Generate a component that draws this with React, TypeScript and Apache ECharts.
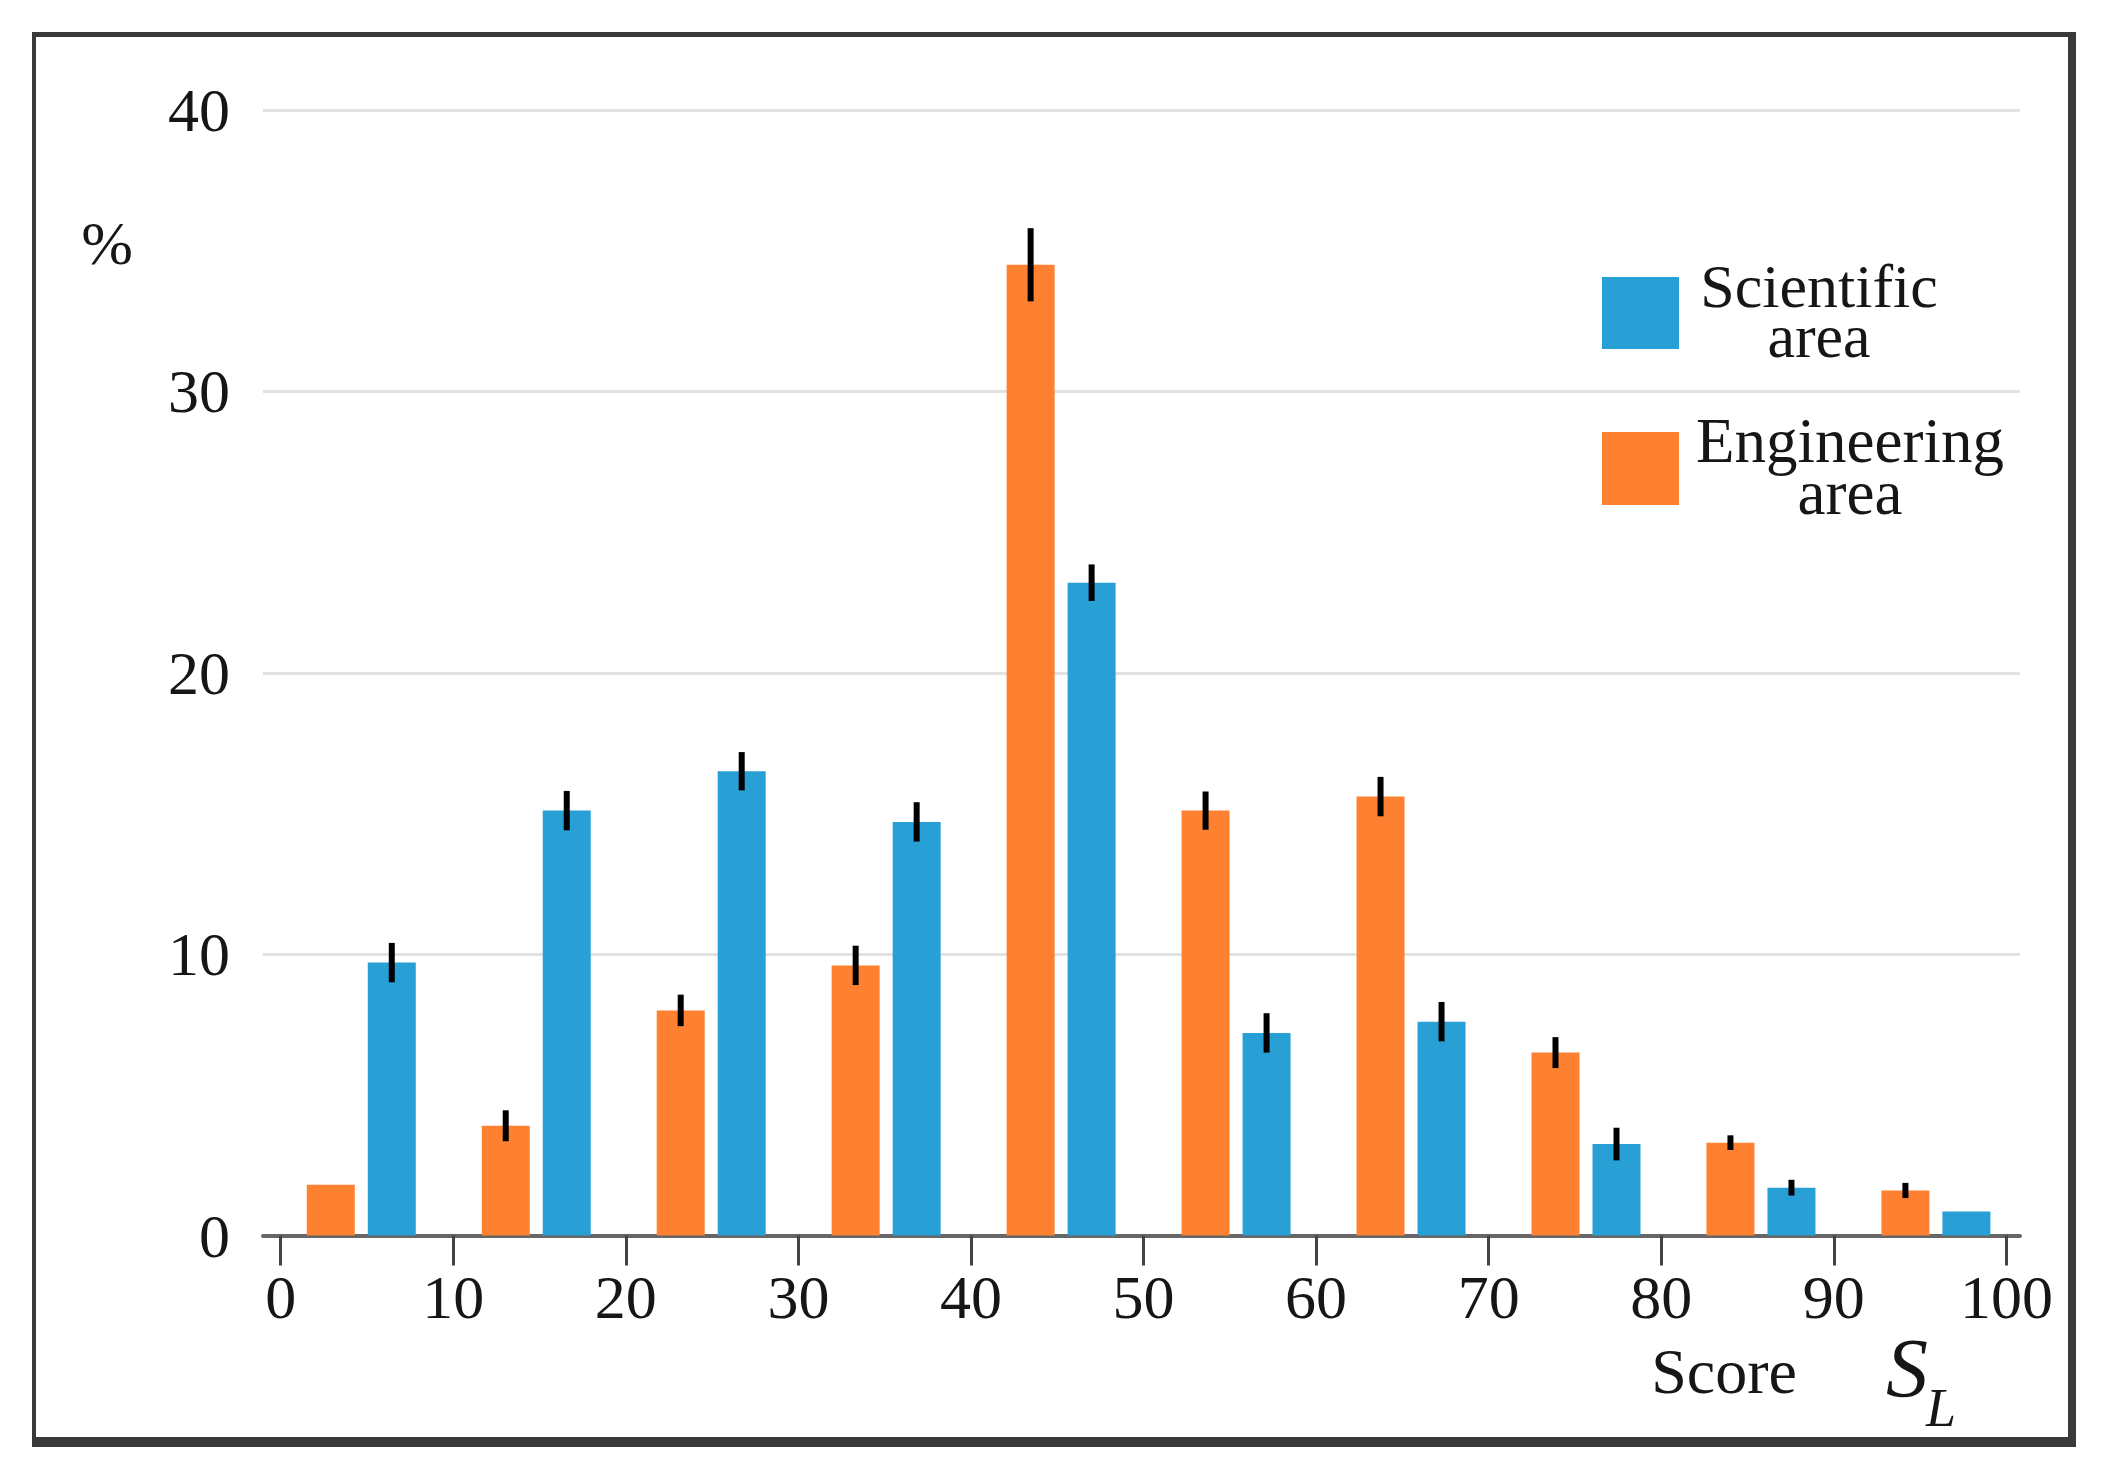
import React, { useEffect, useRef } from "react";
import * as echarts from "echarts";

// ---- data ----
const categories = ["0–10", "10–20", "20–30", "30–40", "40–50", "50–60", "60–70", "70–80", "80–90", "90–100"];
const engineering = [1.8, 3.9, 8.0, 9.6, 34.5, 15.1, 15.6, 6.5, 3.3, 1.6];
const engineeringErr = [0, 0.55, 0.56, 0.7, 1.3, 0.68, 0.7, 0.55, 0.26, 0.27];
const scientific = [9.7, 15.1, 16.5, 14.7, 23.2, 7.2, 7.6, 3.25, 1.7, 0.85];
const scientificErr = [0.7, 0.7, 0.68, 0.7, 0.65, 0.7, 0.7, 0.58, 0.28, 0];
const legendLabels = ["Scientific\narea", "Engineering\narea"];

const BLUE = "#29a0d5";
const ORANGE = "#fe8031";
const FONT = "Liberation Serif";
const TEXT = "#161616";
const BAR_W = 48;
const BAR_GAP = 13;

function errorSeries(values: number[], errs: number[], side: number) {
  const data = values
    .map((v, i) => [i, v, errs[i]])
    .filter((d) => d[2] > 0);
  const off = (side * (BAR_W + BAR_GAP)) / 2;
  return {
    type: "custom",
    xAxisIndex: 2,
    yAxisIndex: 2,
    z: 5,
    data,
    renderItem: (_params: any, api: any) => {
      const i = api.value(0);
      const v = api.value(1);
      const e = api.value(2);
      const top = api.coord([i, v + e]);
      const bot = api.coord([i, v - e]);
      return {
        type: "line",
        shape: { x1: top[0] + off, y1: top[1], x2: bot[0] + off, y2: bot[1] },
        style: { stroke: "#000", lineWidth: 6 },
      };
    },
  };
}

export default function App() {
  const ref = useRef<HTMLDivElement>(null);
  useEffect(() => {
    document.body.style.margin = "0";
    const chart = echarts.init(ref.current!, null, { renderer: "svg" });
    const top = 110;
    const bottom = 1480 - 1235.5;
    const txt = (text: string, x: number, y: number, size: number, extra: any = {}) => ({
      type: "text",
      x,
      y,
      style: {
        text,
        fill: TEXT,
        fontSize: size,
        fontFamily: FONT,
        align: "center",
        verticalAlign: "middle",
        ...extra,
      },
    });
    chart.setOption({
      animation: false,
      backgroundColor: "#fff",
      grid: [
        { left: 263, right: 86, top, bottom },
        { left: 280.7, right: 99.6, top, bottom },
        { left: 273.8, right: 82.6, top, bottom },
      ],
      xAxis: [
        {
          gridIndex: 0,
          type: "value",
          min: 0,
          max: 1,
          axisLine: { show: true, lineStyle: { color: "#666", width: 4 } },
          axisTick: { show: false },
          axisLabel: { show: false },
          splitLine: { show: false },
        },
        {
          gridIndex: 1,
          type: "value",
          min: 0,
          max: 100,
          interval: 10,
          axisLine: { show: false },
          axisTick: { show: true, length: 30, lineStyle: { color: "#444", width: 3 } },
          axisLabel: { fontSize: 62, fontFamily: FONT, color: TEXT, margin: 30 },
          splitLine: { show: false },
        },
        { gridIndex: 2, type: "category", data: categories, show: false },
      ],
      yAxis: [
        {
          gridIndex: 0,
          type: "value",
          min: 0,
          max: 40,
          interval: 10,
          axisLine: { show: false },
          axisTick: { show: false },
          axisLabel: { fontSize: 62, fontFamily: FONT, color: TEXT, margin: 33 },
          splitLine: { show: true, lineStyle: { color: "#e2e2e2", width: 3 } },
        },
        { gridIndex: 1, type: "value", min: 0, max: 40, show: false },
        { gridIndex: 2, type: "value", min: 0, max: 40, show: false },
      ],
      series: [
        {
          type: "bar",
          name: "Engineering area",
          xAxisIndex: 2,
          yAxisIndex: 2,
          data: engineering,
          barWidth: BAR_W,
          barGap: `${(BAR_GAP / BAR_W) * 100}%`,
          itemStyle: { color: ORANGE },
        },
        {
          type: "bar",
          name: "Scientific area",
          xAxisIndex: 2,
          yAxisIndex: 2,
          data: scientific,
          barWidth: BAR_W,
          barGap: `${(BAR_GAP / BAR_W) * 100}%`,
          itemStyle: { color: BLUE },
        },
        errorSeries(engineering, engineeringErr, -1),
        errorSeries(scientific, scientificErr, 1),
      ],
      graphic: [
        // frame
        { type: "rect", shape: { x: 32, y: 32, width: 2044, height: 5 }, style: { fill: "#3a3a3a" } },
        { type: "rect", shape: { x: 32, y: 32, width: 4, height: 1415 }, style: { fill: "#3a3a3a" } },
        { type: "rect", shape: { x: 2068, y: 32, width: 8, height: 1415 }, style: { fill: "#3a3a3a" } },
        { type: "rect", shape: { x: 32, y: 1437, width: 2044, height: 10 }, style: { fill: "#3a3a3a" } },
        // y unit
        txt("%", 107, 243, 62),
        // legend
        { type: "rect", shape: { x: 1602, y: 277, width: 77, height: 72 }, style: { fill: BLUE } },
        { type: "rect", shape: { x: 1602, y: 432, width: 77, height: 73 }, style: { fill: ORANGE } },
        txt(legendLabels[0], 1819, 311, 62, { lineHeight: 50 }),
        txt(legendLabels[1], 1850, 467, 63, { lineHeight: 52 }),
        // x title
        txt("Score", 1724, 1371, 64),
        txt("S", 1886, 1368, 84, { align: "left", fontStyle: "italic" }),
        txt("L", 1926, 1408, 54, { align: "left", fontStyle: "italic" }),
      ],
    });
    return () => chart.dispose();
  }, []);
  return <div ref={ref} style={{ width: 2106, height: 1480 }} />;
}
